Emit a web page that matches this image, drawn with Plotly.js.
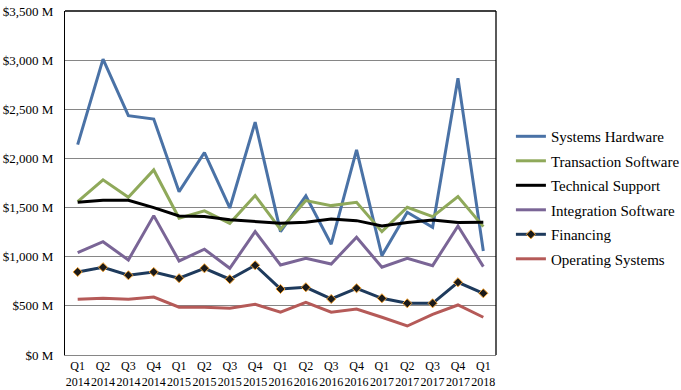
<!DOCTYPE html>
<html>
<head>
<meta charset="utf-8">
<script src="https://cdn.plot.ly/plotly-3.0.1.min.js"></script>
<style>html,body{margin:0;padding:0;background:#fff;overflow:hidden}#chart{width:696px;height:390px}</style>
</head>
<body>
<div id="chart"></div>
<script>
var quarters = ["Q1<br>2014","Q2<br>2014","Q3<br>2014","Q4<br>2014","Q1<br>2015","Q2<br>2015","Q3<br>2015","Q4<br>2015","Q1<br>2016","Q2<br>2016","Q3<br>2016","Q4<br>2016","Q1<br>2017","Q2<br>2017","Q3<br>2017","Q4<br>2017","Q1<br>2018"];
var systemsHardware = [2140,3010,2435,2400,1662,2060,1496,2370,1255,1620,1127,2087,1011,1453,1300,2817,1059];
var transactionSoftware = [1560,1782,1605,1883,1391,1466,1340,1622,1279,1571,1520,1554,1255,1503,1408,1612,1306];
var technicalSupport = [1554,1575,1575,1500,1415,1410,1377,1360,1340,1350,1384,1367,1313,1347,1374,1347,1350];
var integrationSoftware = [1042,1153,967,1418,957,1076,882,1255,916,984,926,1198,893,984,909,1313,899];
var financing = [845,893,811,845,781,882,771,913,672,689,570,679,577,526,526,740,628];
var operatingSystems = [567,577,567,590,486,486,475,516,435,536,435,468,384,295,414,509,384];
var seriesNames = ["Systems Hardware","Transaction Software","Technical Support","Integration Software","Financing","Operating Systems"];
var yTicks = [0,500,1000,1500,2000,2500,3000,3500];
var yTickText = ["$0 M","$500 M","$1,000 M","$1,500 M","$2,000 M","$2,500 M","$3,000 M","$3,500 M"];

var font = "Liberation Serif";
function mk(name, y, color, extra) {
  var t = {type:'scatter', mode:'lines', name:name, legendgroup:name, x:quarters, y:y,
    line:{color:color, width:3}};
  if (extra) for (var k in extra) t[k] = extra[k];
  return t;
}
var data = [
  mk(seriesNames[0], systemsHardware, '#4a72a6'),
  mk(seriesNames[1], transactionSoftware, '#8fa95a'),
  mk(seriesNames[2], technicalSupport, '#000000'),
  mk(seriesNames[3], integrationSoftware, '#7a6596'),
  mk(seriesNames[4], financing, '#1e3a5c', {mode:'lines+markers',
    marker:{symbol:'diamond', size:7, color:'#1a1a1a', line:{color:'#f0a030', width:1}}}),
  mk(seriesNames[5], operatingSystems, '#b55a58')
];
var layout = {
  width:696, height:390,
  margin:{l:65, r:197, t:11, b:35},
  paper_bgcolor:'#fff', plot_bgcolor:'#fff',
  font:{family:font, size:13, color:'#000'},
  showlegend:true,
  legend:{x:1.0346, y:0.683, xanchor:'left', yanchor:'top', font:{family:font, size:15, color:'#000'},
    itemwidth:30, tracegroupgap:2, bgcolor:'rgba(0,0,0,0)'},
  xaxis:{type:'category', range:[-0.5,16.5], showgrid:false, showline:true, linecolor:'#868686', linewidth:1,
    ticks:'', tickangle:0, tickfont:{family:font, size:12}, zeroline:false, fixedrange:true},
  yaxis:{range:[0,3500], tickmode:'array', tickvals:yTicks, ticktext:yTickText, ticklabelstandoff:8,
    showgrid:true, gridcolor:'#868686', gridwidth:1, showline:true, linecolor:'#000', linewidth:1,
    ticks:'', tickfont:{family:font, size:13}, zeroline:false, fixedrange:true},
  shapes:[
    {type:'line', xref:'paper', yref:'paper', x0:0, x1:1, y0:1, y1:1, line:{color:'#000', width:1.3}},
    {type:'line', xref:'paper', yref:'paper', x0:1, x1:1, y0:0, y1:1, line:{color:'#000', width:1.3}}
  ]
};
Plotly.newPlot('chart', data, layout, {displayModeBar:false, staticPlot:true});
</script>
</body>
</html>
